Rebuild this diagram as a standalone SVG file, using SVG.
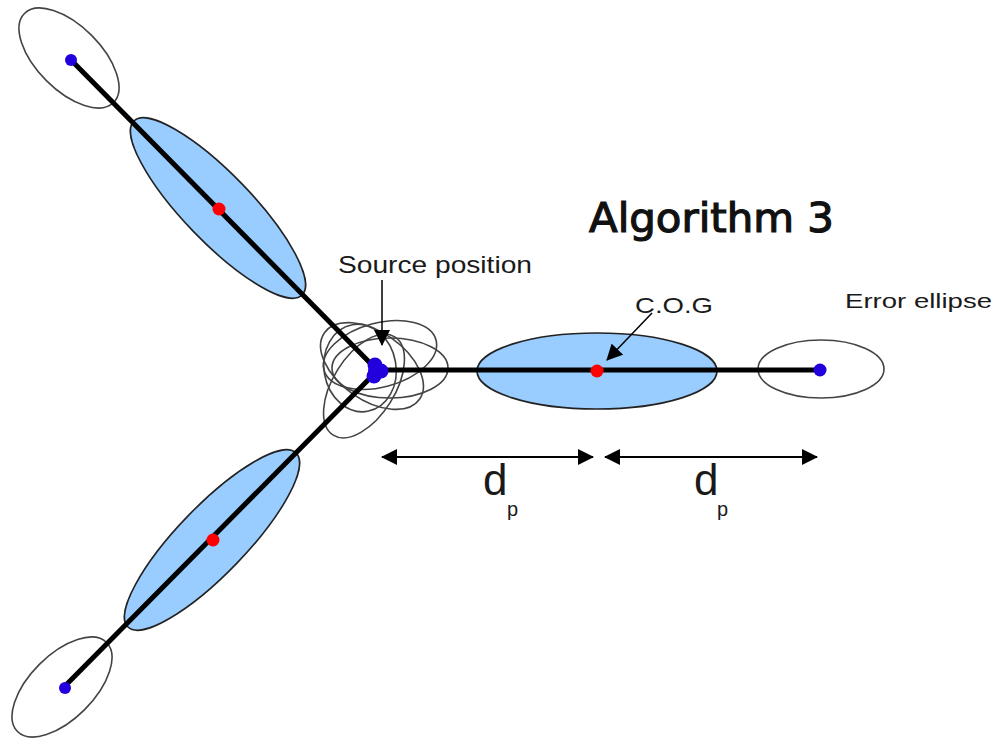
<svg xmlns="http://www.w3.org/2000/svg" width="999" height="738" viewBox="0 0 999 738">
<defs>
<style>
.err{fill:none;stroke:#444;stroke-width:1.6}
.cog{fill:#99ccff;stroke:#222;stroke-width:1.6}
.arm{stroke:#000;stroke-width:5;stroke-linecap:round}
.blue{fill:#2200dd}
.red{fill:#ff0000}
.lbl{font-family:"Liberation Sans",Arial,sans-serif;fill:#1a1a1a}
.dim{stroke:#000;stroke-width:2}
</style>
<marker id="ah" viewBox="0 0 16 16" refX="15" refY="8" markerWidth="16" markerHeight="16" markerUnits="userSpaceOnUse" orient="auto-start-reverse">
<path d="M0,0 L16,8 L0,16 Z" fill="#000"/>
</marker>
</defs>
<rect width="999" height="738" fill="#fff"/>

<g id="upper-error"><ellipse class="err" cx="69" cy="58" rx="63" ry="32" transform="rotate(45 69 58)"/></g>
<g id="upper-cog"><ellipse class="cog" cx="218" cy="208" rx="121" ry="34" transform="rotate(46 218 208)"/></g>
<g id="lower-cog"><ellipse class="cog" cx="212" cy="540" rx="121" ry="34" transform="rotate(-46 212 540)"/></g>
<g id="lower-error"><ellipse class="err" cx="62" cy="687" rx="63" ry="32" transform="rotate(-45 62 687)"/></g>
<g id="right-cog"><ellipse class="cog" cx="597" cy="371" rx="120" ry="38"/></g>
<g id="right-error"><ellipse class="err" cx="821" cy="369" rx="63" ry="29"/></g>

<g id="source-ellipses">
<ellipse class="err" cx="390" cy="368" rx="58" ry="30"/>
<ellipse class="err" cx="372" cy="366" rx="58" ry="34" transform="rotate(35 372 366)"/>
<ellipse class="err" cx="364" cy="386" rx="58" ry="31" transform="rotate(-58 364 386)"/>
<ellipse class="err" cx="380" cy="355" rx="58" ry="32" transform="rotate(-15 380 355)"/>
<ellipse class="err" cx="360" cy="368" rx="44" ry="36" transform="rotate(80 360 368)"/>
</g>

<g id="connectors">
<line class="arm" x1="72" y1="61" x2="377" y2="370"/>
<line class="arm" x1="64" y1="687" x2="378" y2="370"/>
<line class="arm" x1="378" y1="370" x2="820" y2="370"/>
<line stroke="#000" stroke-width="1.5" x1="382" y1="280" x2="382" y2="345" marker-end="url(#ah)"/>
<line stroke="#000" stroke-width="1.5" x1="652" y1="313" x2="607" y2="360" marker-end="url(#ah)"/>
<line class="dim" x1="382" y1="457" x2="593" y2="457" marker-start="url(#ah)" marker-end="url(#ah)"/>
<line class="dim" x1="605" y1="457" x2="817" y2="457" marker-start="url(#ah)" marker-end="url(#ah)"/>
</g>

<g id="points">
<circle class="blue" cx="71" cy="60" r="6"/>
<circle class="red" cx="219" cy="209" r="6.5"/>
<circle class="red" cx="213" cy="540" r="6.5"/>
<circle class="blue" cx="65" cy="688" r="6"/>
<circle class="red" cx="597" cy="371" r="6.5"/>
<circle class="blue" cx="820" cy="370" r="6.5"/>
</g>
<g id="source">
<circle class="blue" cx="375" cy="365" r="7.5"/>
<circle class="blue" cx="381" cy="371" r="7.5"/>
<circle class="blue" cx="374" cy="376" r="7.5"/>
<circle class="blue" cx="376" cy="371" r="8"/>
</g>

<g id="labels">
<text x="589" y="232" font-family="DejaVu Sans,sans-serif" font-size="40" fill="#111" stroke="#111" stroke-width="1.2" textLength="245" lengthAdjust="spacingAndGlyphs">Algorithm 3</text>
<text class="lbl" x="338" y="273" font-size="24" textLength="194" lengthAdjust="spacingAndGlyphs">Source position</text>
<text class="lbl" x="635" y="313" font-size="22" textLength="78" lengthAdjust="spacingAndGlyphs">C.O.G</text>
<text class="lbl" x="845" y="308" font-size="21" textLength="147" lengthAdjust="spacingAndGlyphs">Error ellipse</text>
<text class="lbl" x="483" y="495" font-size="44">d</text>
<text class="lbl" x="507" y="516" font-size="20">p</text>
<text class="lbl" x="694" y="495" font-size="44">d</text>
<text class="lbl" x="717" y="516" font-size="20">p</text>
</g>
</svg>
